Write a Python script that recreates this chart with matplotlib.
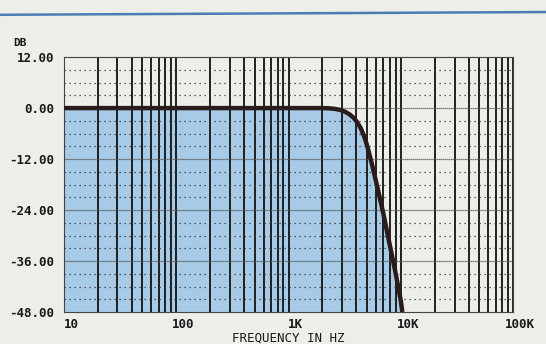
import matplotlib
matplotlib.use("Agg")
import matplotlib.pyplot as plt
import matplotlib.transforms as mtransforms
from matplotlib.lines import Line2D
from matplotlib.ticker import FixedLocator, NullFormatter

# low-pass response, frequency in Hz vs gain in dB
freq_hz = [10, 100, 1000, 2000, 2300, 2600, 2900, 3200, 3500, 3800,
           4100, 4400, 4700, 5000, 5500, 6000, 6600, 7000, 8000, 9000,
           10000, 10300]
gain_db = [0.0, 0.0, 0.0, 0.0, -0.05, -0.2, -0.45, -0.9, -1.5, -2.3,
           -3.4, -4.8, -6.6, -8.8, -13.0, -17.2, -22.0, -25.0, -32.5, -39.0,
           -45.5, -48.0]

x_ticks = [10, 100, 1000, 10000, 100000]
x_tick_labels = ["10", "100", "1K", "10K", "100K"]
y_ticks = [12, 0, -12, -24, -36, -48]
y_tick_labels = ["12.00", "0.00", "-12.00", "-24.00", "-36.00", "-48.00"]

paper = "#eceee7"
fill_blue = "#a7cbe6"
ink = "#2b1c1c"
mono = "DejaVu Sans Mono"

fig = plt.figure(figsize=(5.46, 3.44), dpi=100, facecolor=paper)
ax = fig.add_axes([0.117, 0.093, 0.823, 0.741])
ax.set_facecolor(paper)
ax.set_xscale("log")
ax.set_xlim(10, 100000)
ax.set_ylim(-48, 12)

ax.fill_between(freq_hz, gain_db, -48, color=fill_blue, lw=0, zorder=1)

# vertical grid: every 1..9 of each decade, solid black
minor_x = [m * 10 ** d for d in range(1, 5) for m in range(1, 10)] + [100000]
ax.xaxis.set_major_locator(FixedLocator(x_ticks))
ax.xaxis.set_minor_locator(FixedLocator(minor_x))
ax.xaxis.set_minor_formatter(NullFormatter())
for xv in minor_x:
    ax.axvline(xv, color="#111111", lw=1.3, zorder=2)

# horizontal grid: dotted every 3 dB, finer solid line at every 12 dB
for yv in range(-45, 12, 3):
    if yv % 12 == 0:
        ax.axhline(yv, color="#555555", lw=0.9, ls=(0, (1, 0.6)), zorder=2)
    else:
        ax.axhline(yv, color="#333333", lw=0.9, ls=(0, (1, 3)), zorder=2)

ax.plot(freq_hz, gain_db, color=ink, lw=3.2, solid_capstyle="butt",
        zorder=4, clip_on=True)

ax.set_yticks(y_ticks)
ax.set_yticklabels(y_tick_labels, fontfamily=mono, fontweight="bold",
                   fontsize=9, color="#1a1a1a")
ax.set_xticks(x_ticks)
ax.set_xticklabels(x_tick_labels, fontfamily=mono, fontweight="bold",
                   fontsize=9, color="#1a1a1a")
ax.tick_params(axis="both", which="both", length=0)
ax.tick_params(axis="y", pad=7)
ax.tick_params(axis="x", pad=4)

# x labels sit a little right of their grid lines
shift = mtransforms.ScaledTranslation(7 / 100, 0, fig.dpi_scale_trans)
for lbl in ax.get_xticklabels():
    lbl.set_transform(lbl.get_transform() + shift)

for sp in ax.spines.values():
    sp.set_color("#444444")
    sp.set_linewidth(0.8)

ax.set_xlabel("FREQUENCY IN HZ", fontfamily=mono, fontsize=9,
              color="#1a1a1a", labelpad=1)
fig.text(0.025, 0.865, "DB", fontfamily=mono, fontweight="bold",
         fontsize=8, color="#1a1a1a")

# blue rule across the top of the page
fig.add_artist(Line2D([0, 1], [0.957, 0.965], color="#4b7db3", lw=1.8))

fig.savefig("out.png", dpi=100, facecolor=paper)
